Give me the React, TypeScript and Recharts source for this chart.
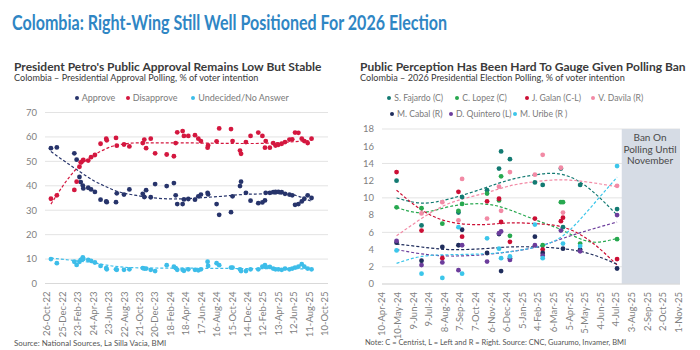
import React from 'react';
import { ComposedChart, Scatter, Line, XAxis, YAxis, CartesianGrid, ReferenceArea } from 'recharts';

const FONT = 'Lato, "Noto Sans", sans-serif';
const MONTHS = ['Jan', 'Feb', 'Mar', 'Apr', 'May', 'Jun', 'Jul', 'Aug', 'Sep', 'Oct', 'Nov', 'Dec'];
const DAY = 86400000;
const ts = (s: string) => Date.parse(s + 'T00:00:00Z');
const parseLabel = (s: string) => {
  const [d, m, y] = s.split('-');
  return Date.UTC(2000 + Number(y), MONTHS.indexOf(m), Number(d));
};

// ---------------- Left chart: presidential approval ----------------
const approvalDates = [
  '2022-11-10', '2022-12-03', '2023-02-09', '2023-02-18', '2023-03-01', '2023-03-06', '2023-03-14', '2023-03-16',
  '2023-04-04', '2023-04-15', '2023-04-30', '2023-05-22', '2023-06-13', '2023-06-15', '2023-07-21', '2023-07-24',
  '2023-08-21', '2023-09-11', '2023-11-02', '2023-11-08', '2023-11-15', '2023-12-03', '2023-12-20', '2024-02-03',
  '2024-03-02', '2024-03-09', '2024-03-15', '2024-04-05', '2024-04-10', '2024-04-27', '2024-05-23', '2024-06-05',
  '2024-06-15', '2024-07-11', '2024-07-13', '2024-08-15', '2024-08-25', '2024-10-10', '2024-10-16', '2024-11-14',
  '2024-11-18', '2024-12-07', '2024-12-25', '2025-01-24', '2025-02-09', '2025-02-19', '2025-02-22', '2025-03-10',
  '2025-03-23', '2025-04-01', '2025-04-12', '2025-04-25', '2025-05-08', '2025-05-25', '2025-06-05', '2025-06-16',
  '2025-06-29', '2025-07-12', '2025-07-22', '2025-08-04', '2025-08-19',
];
const approve = [
  55.4, 55.7, 53.3, 50.7, 43.6, 41.5, 40.1, 38.9, 39.2, 38.5, 37.5, 34.3, 33.6, 33.3, 33.3, 36.9,
  36.4, 38.5, 36.7, 35.4, 38.2, 35.3, 40.7, 39.9, 41.1, 36.1, 32.5, 32.5, 34.4, 34.6, 34.3, 35.7,
  36.4, 37.1, 36.5, 32.5, 28.1, 29.2, 35.7, 39.9, 41.7, 37.1, 33.9, 32.9, 33.2, 34.0, 37.1, 37.1,
  37.4, 37.5, 37.5, 37.4, 36.7, 36.4, 36.1, 32.2, 32.5, 33.6, 34.7, 36.1, 35.0,
];
const disapprove = [
  34.7, 36.1, 38.3, 41.7, 47.8, 49.6, 50.3, 50.6, 50.3, 51.7, 52.6, 57.2, 59.3, 58.6, 59.6, 56.4,
  56.9, 56.1, 57.5, 58.9, 55.4, 59.3, 53.3, 52.8, 52.1, 57.5, 61.9, 62.4, 60.4, 60.4, 60.7, 59.3,
  58.3, 55.6, 56.5, 58.2, 63.5, 63.2, 58.3, 54.4, 53.1, 57.9, 60.4, 61.8, 60.4, 55.6, 58.3, 55.6,
  57.5, 56.5, 56.8, 57.2, 57.9, 58.9, 59.0, 61.8, 61.7, 59.3, 58.3, 57.5, 59.3,
];
const undecided = [
  10.0, 8.3, 8.9, 7.6, 8.9, 9.7, 10.7, 10.0, 9.7, 9.3, 8.6, 7.2, 6.3, 5.8, 5.8, 5.6,
  5.6, 5.8, 6.3, 6.1, 6.1, 5.6, 5.1, 7.5, 6.9, 6.3, 5.6, 5.6, 5.2, 5.8, 5.6, 5.4,
  5.8, 8.9, 7.2, 8.3, 7.5, 6.5, 6.5, 5.8, 5.1, 5.1, 5.8, 5.8, 6.9, 7.5, 6.8, 6.8,
  6.1, 5.8, 5.8, 5.6, 6.1, 5.8, 6.1, 6.5, 6.9, 7.9, 6.9, 6.1, 5.8,
];
const approvalTrendDates = [
  '2022-11-10', '2023-02-16', '2023-04-24', '2023-06-15', '2023-07-11', '2023-10-23',
  '2024-03-01', '2024-08-22', '2024-12-29', '2025-05-08', '2025-08-19',
];
const approveTrend = [54.0, 46.8, 42.2, 39.5, 38.3, 35.8, 34.6, 35.6, 36.6, 36.7, 33.6];
const disapproveTrend = [32.5, 46.8, 52.4, 55.3, 56.3, 57.6, 57.6, 57.4, 57.3, 57.8, 58.6];
const undecidedTrend = [10.4, 9.3, 8.5, 7.5, 7.1, 6.4, 6.3, 6.2, 6.1, 6.1, 5.9];
const leftTickLabels = [
  '26-Oct-22', '25-Dec-22', '23-Feb-23', '24-Apr-23', '23-Jun-23', '22-Aug-23', '21-Oct-23', '20-Dec-23',
  '18-Feb-24', '18-Apr-24', '17-Jun-24', '16-Aug-24', '15-Oct-24', '14-Dec-24', '12-Feb-25', '13-Apr-25',
  '12-Jun-25', '11-Aug-25', '10-Oct-25',
];
const leftYTicks = [0, 10, 20, 30, 40, 50, 60, 70];

// ---------------- Right chart: 2026 election polling ----------------
const pollDates = [
  '2024-05-08', '2024-06-25', '2024-08-04', '2024-09-04', '2024-09-11', '2024-10-29', '2024-11-21', '2024-11-25',
  '2024-12-12', '2025-01-29', '2025-02-13', '2025-03-20', '2025-03-24', '2025-04-26', '2025-07-06',
];
const fajardo = [12.0, 6.8, null, 8.3, 10.1, 10.9, 13.4, 15.4, 14.5, 11.8, 11.5, 13.4, 6.6, 11.5, 8.7];
const lopez = [8.9, 8.8, 7.0, 8.5, 9.3, 10.5, 9.7, 12.5, 5.6, null, 4.5, 9.5, 9.5, 4.7, 5.2];
const galan = [13.0, 6.2, 3.0, 10.7, 5.5, 9.6, 9.9, 7.2, 4.9, 7.6, 4.0, 7.3, 7.7, null, 2.9];
const davila = [null, 8.2, 9.5, 7.4, 12.2, 7.6, 11.3, 8.5, 13.0, 12.7, 15.0, 13.5, 8.3, null, 11.4];
const cabal = [4.8, 2.7, 4.3, 4.5, 6.3, 3.6, 5.8, 1.5, 3.0, 5.5, 3.6, null, 4.1, 4.0, 1.8];
const quintero = [5.0, 2.2, 2.5, 1.6, 4.5, 2.6, 5.9, 6.1, 2.8, 4.5, 3.3, 6.2, null, 3.8, 8.0];
const uribe = [3.9, 1.2, 0.7, 6.6, 1.2, 5.3, 4.1, 3.0, 3.2, 6.9, 3.0, null, 4.7, 4.4, 13.7];

const pollTrendDates = [
  '2024-05-08', '2024-06-25', '2024-08-19', '2024-10-22', '2024-12-12', '2025-02-01', '2025-03-24', '2025-05-15', '2025-07-06',
];
const fajardoTrend = [10.0, 9.4, 9.9, 11.1, 12.1, 12.7, 12.7, 11.0, 8.0];
const lopezTrend = [8.9, 8.3, 9.0, 9.3, 8.6, 7.4, 6.2, 4.9, 5.3];
const galanTrend = [10.9, 8.6, 7.2, 6.9, 7.1, 7.0, 6.6, 5.0, 2.2];
const davilaTrend = [5.6, 7.6, 9.4, 10.5, 11.4, 11.9, 12.1, 11.8, 11.3];
const cabalTrend = [4.65, 4.3, 4.0, 4.1, 4.3, 4.3, 4.1, 3.5, 2.3];
const quinteroTrend = [4.0, 3.5, 3.25, 3.4, 3.75, 4.3, 5.3, 6.3, 7.2];
const uribeTrend = [2.4, 3.2, 3.4, 3.5, 3.75, 4.3, 5.6, 8.8, 12.4];

const rightTickLabels = [
  '10-Apr-24', '10-May-24', '9-Jun-24', '9-Jul-24', '8-Aug-24', '7-Sep-24', '7-Oct-24', '6-Nov-24', '6-Dec-24',
  '5-Jan-25', '4-Feb-25', '6-Mar-25', '5-Apr-25', '5-May-25', '4-Jun-25', '4-Jul-25', '3-Aug-25', '2-Sep-25',
  '2-Oct-25', '1-Nov-25',
];
const rightYTicks = [0, 2, 4, 6, 8, 10, 12, 14, 16, 18];
const banStart = '2025-07-15';

// ---------------- helpers ----------------
const toPoints = (dates: string[], values: (number | null)[]) =>
  dates.map((d, i) => ({ t: ts(d), v: values[i] })).filter((p) => p.v !== null && p.v !== undefined);

const leftSeries = [
  { name: 'Approve', color: '#27346b', values: approve, trend: approveTrend },
  { name: 'Disapprove', color: '#d4173f', values: disapprove, trend: disapproveTrend },
  { name: 'Undecided/No Answer', color: '#3dbde9', values: undecided, trend: undecidedTrend },
];
const rightSeries = [
  { name: 'S. Fajardo (C)', color: '#137a72', values: fajardo, trend: fajardoTrend },
  { name: 'C. Lopez (C)', color: '#27a84f', values: lopez, trend: lopezTrend },
  { name: 'J. Galan (C-L)', color: '#cc0f35', values: galan, trend: galanTrend },
  { name: 'V. Davila (R)', color: '#f28aa5', values: davila, trend: davilaTrend },
  { name: 'M. Cabal (R)', color: '#1f2d5c', values: cabal, trend: cabalTrend },
  { name: 'D. Quintero (L)', color: '#6c3d9c', values: quintero, trend: quinteroTrend },
  { name: 'M. Uribe (R )', color: '#3cc6ea', values: uribe, trend: uribeTrend },
];

const leftTicks = leftTickLabels.map(parseLabel);
const rightTicks = rightTickLabels.map(parseLabel);
const leftLabelMap: Record<number, string> = {};
leftTickLabels.forEach((l, i) => (leftLabelMap[leftTicks[i]] = l));
const rightLabelMap: Record<number, string> = {};
rightTickLabels.forEach((l, i) => (rightLabelMap[rightTicks[i]] = l));

const leftDomain: [number, number] = [leftTicks[0] - 8 * DAY, leftTicks[leftTicks.length - 1] + 12 * DAY];
const rightDomain: [number, number] = [rightTicks[0], rightTicks[rightTicks.length - 1] + 3 * DAY];

const makeRotTick = (map: Record<number, string>) => (props: any) => {
  const { x, y, payload } = props;
  return (
    <text
      x={x}
      y={y}
      transform={`rotate(-90 ${x} ${y})`}
      textAnchor="end"
      dy="0.35em"
      fontSize={9.5}
      fill="#7f7f7f"
      fontFamily={FONT}
    >
      {map[payload.value]}
    </text>
  );
};

const dotShape = (color: string) => (p: any) => <circle cx={p.cx} cy={p.cy} r={2.4} fill={color} />;

const yTick = { fontSize: 9.5, fill: '#7f7f7f', fontFamily: FONT };

const LegendItem = ({ x, y, color, label, size }: { x: number; y: number; color: string; label: string; size: number }) => (
  <div style={{ position: 'absolute', left: x - 2, top: y - 6, height: 12, display: 'flex', alignItems: 'center', whiteSpace: 'nowrap' }}>
    <span style={{ width: 4, height: 4, borderRadius: 2, background: color, display: 'inline-block', marginRight: 3 }} />
    <span style={{ fontSize: size, lineHeight: '10px', color: '#7a7a7a' }}>{label}</span>
  </div>
);

export default function App() {
  const leftLegendPos = [
    [76.7, 98.3],
    [127.7, 98.3],
    [193.3, 98.3],
  ];
  const rightLegendPos = [
    [389.3, 98.3],
    [457.3, 98.3],
    [526.7, 98.3],
    [593.3, 98.3],
    [392, 114.3],
    [451, 114.3],
    [515, 114.3],
  ];
  return (
    <div style={{ position: 'absolute', left: 0, top: 0, width: 700, height: 350, background: '#fff', fontFamily: FONT, overflow: 'hidden' }}>
      <div
        style={{
          position: 'absolute', left: 12, top: 9, fontSize: 21, lineHeight: '26px', fontWeight: 700, color: '#2f86c4',
          whiteSpace: 'nowrap', transform: 'scaleX(0.765)', transformOrigin: 'left top',
        }}
      >
        Colombia: Right-Wing Still Well Positioned For 2026 Election
      </div>

      <div style={{ position: 'absolute', left: 14, top: 60.5, fontSize: 12, lineHeight: '12px', fontWeight: 700, color: '#3a3a3a', whiteSpace: 'nowrap' }}>
        President Petro's Public Approval Remains Low But Stable
      </div>
      <div style={{ position: 'absolute', left: 14, top: 73, fontSize: 9.1, lineHeight: '9px', color: '#3a3a3a', whiteSpace: 'nowrap' }}>
        Colombia – Presidential Approval Polling, % of voter intention
      </div>
      <div style={{ position: 'absolute', left: 360, top: 60.5, fontSize: 12, lineHeight: '12px', fontWeight: 700, color: '#3a3a3a', whiteSpace: 'nowrap' }}>
        Public Perception Has Been Hard To Gauge Given Polling Ban
      </div>
      <div style={{ position: 'absolute', left: 360, top: 73, fontSize: 9.1, lineHeight: '9px', color: '#3a3a3a', whiteSpace: 'nowrap' }}>
        Colombia – 2026 Presidential Election Polling, % of voter intention
      </div>

      {leftSeries.map((s, i) => (
        <LegendItem key={s.name} x={leftLegendPos[i][0]} y={leftLegendPos[i][1]} color={s.color} label={s.name} size={9} />
      ))}
      {rightSeries.map((s, i) => (
        <LegendItem key={s.name} x={rightLegendPos[i][0]} y={rightLegendPos[i][1]} color={s.color} label={s.name} size={8.6} />
      ))}

      <div style={{ position: 'absolute', left: 0, top: 85 }}>
        <ComposedChart width={340} height={265} margin={{ top: 27.5, right: 12, bottom: 16.5, left: 0 }}>
          <CartesianGrid vertical={false} stroke="#e3e3e3" />
          <XAxis
            type="number"
            dataKey="t"
            domain={leftDomain}
            ticks={leftTicks}
            interval={0}
            allowDataOverflow
            tick={makeRotTick(leftLabelMap)}
            tickLine={false}
            axisLine={{ stroke: '#d9d9d9' }}
            height={50}
          />
          <YAxis type="number" dataKey="v" domain={[0, 70]} ticks={leftYTicks} width={45} tick={yTick} tickLine={false} axisLine={false} />
          {leftSeries.map((s) => (
            <Line
              key={s.name + '-trend'}
              data={toPoints(approvalTrendDates, s.trend)}
              dataKey="v"
              type="monotone"
              stroke={s.color}
              strokeWidth={1.2}
              strokeDasharray="3 2"
              dot={false}
              activeDot={false}
              isAnimationActive={false}
            />
          ))}
          {leftSeries.map((s) => (
            <Scatter key={s.name} data={toPoints(approvalDates, s.values)} fill={s.color} shape={dotShape(s.color)} isAnimationActive={false} />
          ))}
        </ComposedChart>
      </div>

      <div style={{ position: 'absolute', left: 350, top: 85 }}>
        <ComposedChart width={350} height={265} margin={{ top: 44, right: 20, bottom: 16, left: 0 }}>
          <ReferenceArea x1={ts(banStart)} x2={rightDomain[1]} y1={0} y2={18} fill="#d6dce5" fillOpacity={1} stroke="none" ifOverflow="hidden" />
          <CartesianGrid vertical={false} stroke="#e3e3e3" />
          <XAxis
            type="number"
            dataKey="t"
            domain={rightDomain}
            ticks={rightTicks}
            interval={0}
            allowDataOverflow
            tick={makeRotTick(rightLabelMap)}
            tickLine={false}
            axisLine={{ stroke: '#d9d9d9' }}
            height={50}
          />
          <YAxis type="number" dataKey="v" domain={[0, 18]} ticks={rightYTicks} width={32} tick={yTick} tickLine={false} axisLine={false} />
          {rightSeries.map((s) => (
            <Line
              key={s.name + '-trend'}
              data={toPoints(pollTrendDates, s.trend)}
              dataKey="v"
              type="natural"
              stroke={s.color}
              strokeWidth={1.2}
              strokeDasharray="3 2"
              dot={false}
              activeDot={false}
              isAnimationActive={false}
            />
          ))}
          {rightSeries.map((s) => (
            <Scatter key={s.name} data={toPoints(pollDates, s.values)} fill={s.color} shape={dotShape(s.color)} isAnimationActive={false} />
          ))}
        </ComposedChart>
      </div>

      <div style={{ position: 'absolute', left: 620, top: 132, width: 60, textAlign: 'center', fontSize: 10, lineHeight: '11.7px', color: '#4a4a4a' }}>
        Ban On
        <br />
        Polling Until
        <br />
        November
      </div>

      <div style={{ position: 'absolute', left: 14, top: 338, fontSize: 7.9, lineHeight: '10px', color: '#555', whiteSpace: 'nowrap' }}>
        Source: National Sources, La Silla Vacia, BMI
      </div>
      <div style={{ position: 'absolute', left: 365, top: 338, fontSize: 7.5, lineHeight: '10px', color: '#555', whiteSpace: 'nowrap' }}>
        Note: C = Centrist, L = Left and R = Right. Source: CNC, Guarumo, Invamer, BMI
      </div>
    </div>
  );
}
